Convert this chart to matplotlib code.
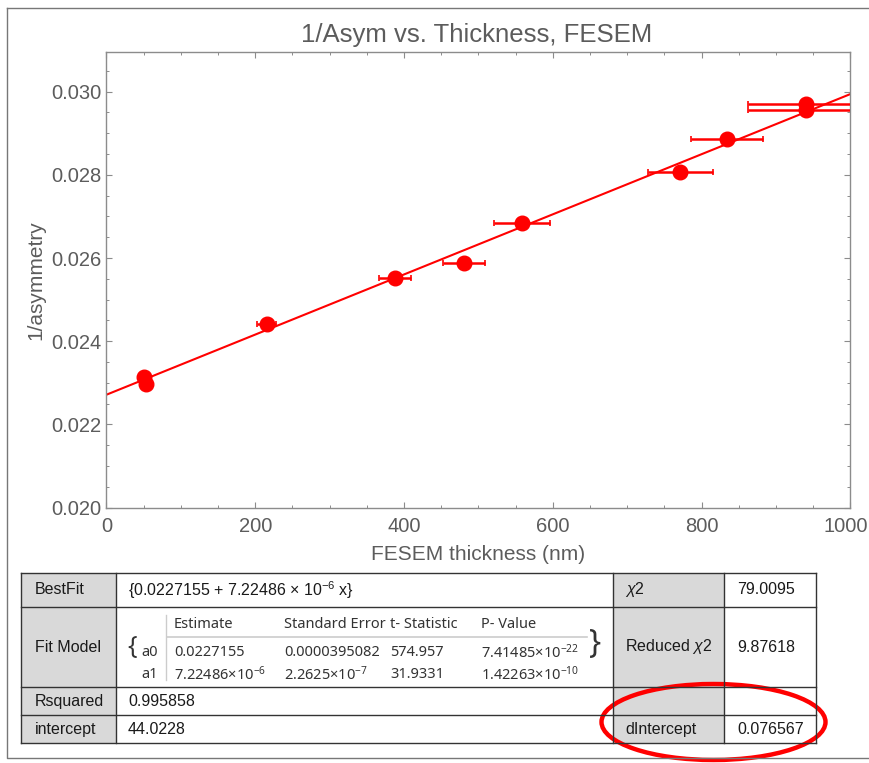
import numpy as np
import matplotlib
matplotlib.use("Agg")
import matplotlib.pyplot as plt
import matplotlib.transforms as mtrans
from matplotlib.ticker import MultipleLocator, FormatStrFormatter
from matplotlib.patches import Rectangle, Ellipse

# ================= 数据 =================
thickness = [50.8, 53.1, 215.3, 387.8, 481.0, 558.9, 771.2, 833.6, 939.8, 939.8]   # nm
thickness_err = [6, 6, 12.8, 22.0, 28.4, 37.4, 44.0, 48.6, 78.0, 78.0]
inv_asym = [0.023135, 0.022974, 0.024409, 0.025514, 0.025875,
            0.026837, 0.02807, 0.028856, 0.029704, 0.02956]

# 线性拟合结果
a0 = 0.0227155
a1 = 7.22486e-6

# 拟合结果表
row_labels = ["BestFit", "Fit Model", "Rsquared", "intercept"]
best_fit_text = "{0.0227155 + 7.22486 × 10$^{-6}$ x}"
rsquared_text = "0.995858"
intercept_text = "44.0228"
stat_labels = ["$\\mathit{χ}$2", "Reduced $\\mathit{χ}$2", "", "dIntercept"]
stat_values = ["79.0095", "9.87618", "", "0.076567"]

param_header = ["Estimate", "Standard Error", "t- Statistic", "P- Value"]
param_names = ["a0", "a1"]
param_rows = [
    ["0.0227155", "0.0000395082", "574.957", "7.41485×10$^{-22}$"],
    ["7.22486×10$^{-6}$", "2.2625×10$^{-7}$", "31.9331", "1.42263×10$^{-10}$"],
]

# ================= 样式 =================
plt.rcParams['font.family'] = ['Liberation Sans', 'DejaVu Sans']
plt.rcParams['mathtext.fontset'] = 'custom'
plt.rcParams['mathtext.rm'] = 'Liberation Sans'
plt.rcParams['mathtext.it'] = 'Liberation Sans:italic'
plt.rcParams['mathtext.default'] = 'regular'

W, H = 870, 763
GREY_TXT = '#5c5c5c'
FRAME = '#8c8c8c'

fig = plt.figure(figsize=(W / 100, H / 100), dpi=100)

# 主图区域 (像素换算成 figure 比例)
left, right, top, bottom = 106.5, 850.5, 52, 507.7
ax = fig.add_axes([left / W, 1 - bottom / H, (right - left) / W, (bottom - top) / H])

ax.errorbar(thickness, inv_asym, xerr=thickness_err, fmt='o', color='red',
            ms=10.5, elinewidth=1.8, capsize=2.5, capthick=1.2, zorder=3)
xx = np.linspace(0, 1000, 200)
ax.plot(xx, a0 + a1 * xx, color='red', lw=1.5, zorder=2)

ax.set_xlim(0, 1000)
ax.set_ylim(0.020, 0.03095)
ax.xaxis.set_major_locator(MultipleLocator(200))
ax.xaxis.set_minor_locator(MultipleLocator(50))
ax.yaxis.set_major_locator(MultipleLocator(0.002))
ax.yaxis.set_minor_locator(MultipleLocator(0.0005))
ax.yaxis.set_major_formatter(FormatStrFormatter('%.3f'))

for s in ax.spines.values():
    s.set_color(FRAME)
    s.set_linewidth(1.0)
ax.tick_params(which='both', direction='in', color=FRAME, top=True, right=True)
ax.tick_params(which='major', length=4.5, width=0.8, labelsize=14.5, labelcolor=GREY_TXT)
ax.tick_params(which='minor', length=2.5, width=0.7)
ax.tick_params(axis='y', pad=3.6)
ax.tick_params(axis='x', pad=7)

ax.set_xlabel("FESEM thickness (nm)", fontsize=15, color=GREY_TXT, va='center')
ax.xaxis.set_label_coords(0.5, -(554 - bottom) / (bottom - top))
ax.set_ylabel("1/asymmetry", fontsize=15, color=GREY_TXT, va='center')
ax.yaxis.set_label_coords((36 - left) / (right - left), 0.5)

# 1000 这个刻度标签往左挪几个像素, 免得出界
fig.canvas.draw()
for t in ax.xaxis.get_major_ticks():
    if abs(t.get_loc() - 1000) < 1e-6:
        t.label1.set_transform(t.label1.get_transform()
                               + mtrans.ScaledTranslation(-5 / 100, 0, fig.dpi_scale_trans))

# ================= 表格 (像素坐标的叠加层) =================
ov = fig.add_axes([0, 0, 1, 1])
ov.set_xlim(0, W)
ov.set_ylim(H, 0)
ov.axis('off')

ov.text(477, 35, "1/Asym vs. Thickness, FESEM", fontsize=18.5, color=GREY_TXT,
        ha='center', va='center')

# 外框
ov.plot([6.7, 6.7, W], [7.5, 757.7, 757.7], color='#777777', lw=1.0)
ov.plot([6.7, W], [7.5, 7.5], color='#777777', lw=1.0)

cols = [20.7, 116, 612.7, 723.7, 815.7]
rows = [572.7, 606.7, 687.3, 715.3, 743.3]
GREY_FILL = '#d9d9d9'
for c0, c1 in [(cols[0], cols[1]), (cols[2], cols[3])]:
    ov.add_patch(Rectangle((c0, rows[0]), c1 - c0, rows[-1] - rows[0],
                           facecolor=GREY_FILL, edgecolor='none'))
for y in rows:
    ov.plot([cols[0], cols[-1]], [y, y], color='#333333', lw=1.0)
for x in cols:
    ov.plot([x, x], [rows[0], rows[-1]], color='#333333', lw=1.0)

row_mid = [(rows[i] + rows[i + 1]) / 2 for i in range(4)]
TXT = '#1a1a1a'
FS = 11.5
for lab, y in zip(row_labels, row_mid):
    ov.text(35, y, lab, fontsize=FS, color=TXT, ha='left', va='center')
for lab, val, y in zip(stat_labels, stat_values, row_mid):
    ov.text(625, y, lab, fontsize=FS, color=TXT, ha='left', va='center')
    ov.text(737, y, val, fontsize=FS, color=TXT, ha='left', va='center')
ov.text(128, row_mid[0], best_fit_text, fontsize=FS, color=TXT, ha='left', va='center')
ov.text(128, row_mid[2], rsquared_text, fontsize=FS, color=TXT, ha='left', va='center')
ov.text(128, row_mid[3], intercept_text, fontsize=FS, color=TXT, ha='left', va='center')

# 参数小表
GRID_FONT = ['Noto Sans', 'DejaVu Sans']
col_x = [174, 284, 390, 481]
ov.text(127, 648, "{", fontsize=18, color='#333333', ha='left', va='center',
        family=GRID_FONT)
ov.text(589, 645, "}", fontsize=23, color='#333333', ha='left', va='center',
        family=GRID_FONT)
ov.plot([167, 587], [636.7, 636.7], color='#cccccc', lw=1.2)
ov.plot([166, 166], [615, 680], color='#cccccc', lw=1.0)
for x, h in zip(col_x, param_header):
    ov.text(x, 625, h, fontsize=10.5, color='#333333', ha='left', va='center',
            family=GRID_FONT)
for name, vals, y in zip(param_names, param_rows, [652.7, 674.3]):
    ov.text(141.7, y, name, fontsize=10.5, color='#333333', ha='left', va='center',
            family=GRID_FONT)
    for x, v in zip(col_x, vals):
        ov.text(x, y, v, fontsize=10.5, color='#333333', ha='left', va='center',
                family=GRID_FONT)

# 红圈标注 dIntercept
ov.add_patch(Ellipse((713.5, 722), 224, 76, facecolor='none', edgecolor='red', lw=3.2))

fig.savefig("out.png", dpi=100)
